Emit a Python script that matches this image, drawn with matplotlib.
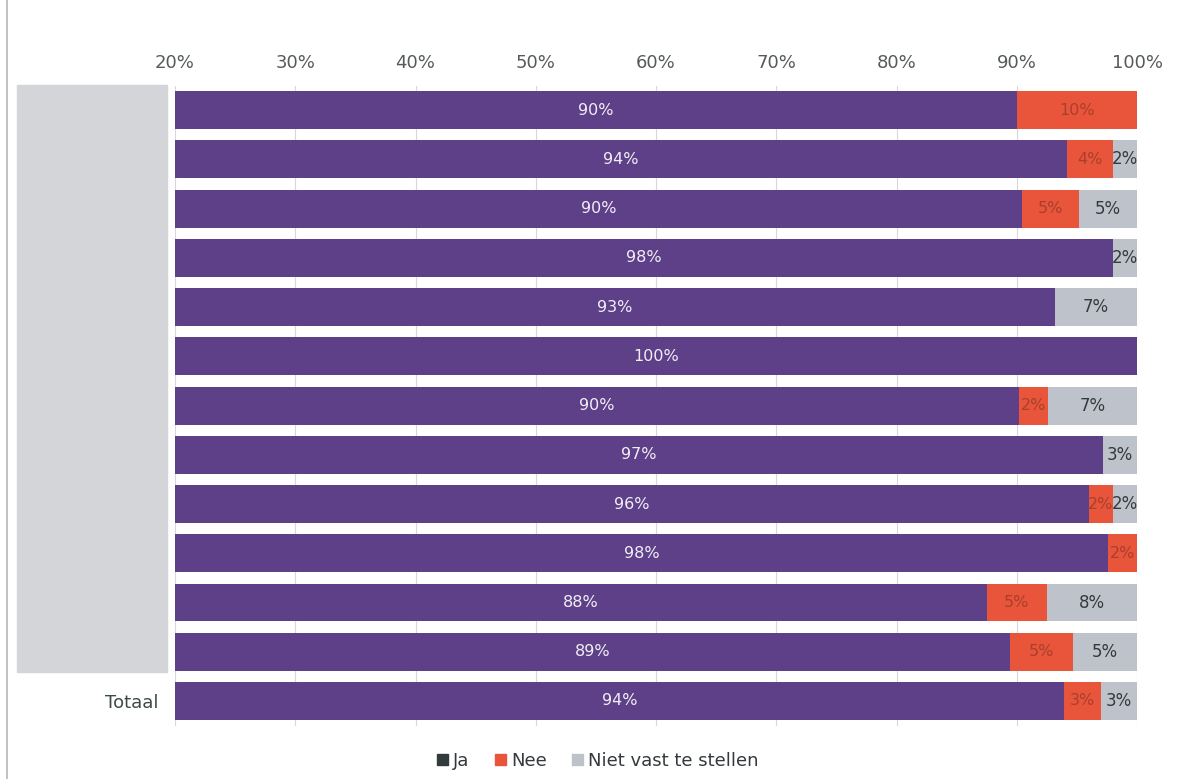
import numpy as np
import matplotlib.pyplot as plt
from matplotlib.patches import Rectangle

# categories (names are blanked out in the source, only "Totaal" is readable)
categories = [""] * 12 + ["Totaal"]
ja = [90.0, 94.2, 90.4, 98.0, 93.2, 100.0, 90.2, 97.2, 96.0, 97.6, 87.5, 89.4, 93.9]
nee = [10.0, 3.8, 4.8, 0.0, 0.0, 0.0, 2.4, 0.0, 2.0, 2.4, 5.0, 5.3, 3.1]
niet = [0.0, 2.0, 4.8, 2.0, 6.8, 0.0, 7.4, 2.8, 2.0, 0.0, 7.5, 5.3, 3.0]
series_names = ["Ja", "Nee", "Niet vast te stellen"]

c_ja = "#5d4087"
c_nee = "#e9553b"
c_niet = "#bec3cb"

fig = plt.figure(figsize=(11.96, 7.79), dpi=100)
ax = fig.add_axes([175 / 1196, 1 - 725.6 / 779, 962 / 1196, 640 / 779])

y = np.arange(len(categories))
ja = np.array(ja)
nee = np.array(nee)
niet = np.array(niet)

h = 0.77
ax.barh(y, ja, height=h, color=c_ja, zorder=2)
ax.barh(y, nee, left=ja, height=h, color=c_nee, zorder=2)
ax.barh(y, niet, left=ja + nee, height=h, color=c_niet, zorder=2)

# value labels
for i in range(len(categories)):
    ax.text((20 + ja[i]) / 2, y[i], f"{ja[i]:.0f}%", ha="center", va="center",
            color="#f2eef6", fontsize=11.5, zorder=3)
    if nee[i] > 0:
        ax.text(ja[i] + nee[i] / 2, y[i], f"{nee[i]:.0f}%", ha="center", va="center",
                color="#a8402c", fontsize=11.5, zorder=3)
    if niet[i] > 0:
        ax.text(ja[i] + nee[i] + niet[i] / 2, y[i], f"{niet[i]:.0f}%", ha="center",
                va="center", color="#333a3c", fontsize=12, zorder=3)

ax.set_xlim(20, 100)
ax.set_ylim(len(categories) - 0.5, -0.5)
ax.set_xticks(np.arange(20, 101, 10))
ax.set_xticklabels([f"{t}%" for t in range(20, 101, 10)])
ax.xaxis.tick_top()
ax.tick_params(axis="x", length=0, pad=10, labelsize=13, labelcolor="#555a5c")
ax.set_yticks(y)
ax.set_yticklabels(categories)
ax.tick_params(axis="y", length=0, pad=12, labelsize=13, labelcolor="#3e4a4a")
ax.grid(axis="x", color="#d8d8d8", linewidth=0.8, zorder=0)
for s in ax.spines.values():
    s.set_visible(False)

# grey box covering the blanked labels
fig.patches.append(Rectangle((17 / 1196, 1 - 672 / 779), 150 / 1196, 587 / 779,
                             transform=fig.transFigure, color="#d3d5d8", zorder=5))
# thin frame line on the left
fig.add_artist(plt.Line2D([7 / 1196, 7 / 1196], [0, 1], color="#b8b8b8", lw=1.2))

# legend
handles = [Rectangle((0, 0), 1, 1, color=c) for c in ["#333a3c", c_nee, c_niet]]
fig.legend(handles, series_names, loc="center", bbox_to_anchor=(0.5, 1 - 761 / 779),
           ncol=3, frameon=False, fontsize=13, handlelength=0.6, handleheight=0.6,
           handletextpad=0.3, columnspacing=1.4, labelcolor="#333a3c")

fig.savefig("out.png", dpi=100)
